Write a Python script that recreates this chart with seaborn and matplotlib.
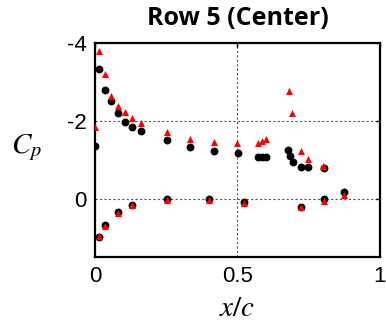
import matplotlib
matplotlib.use("Agg")
import matplotlib.pyplot as plt
import seaborn as sns
import pandas as pd

# Pressure coefficient along the chord, upper and lower surface taps
x_a = [0.0, 0.015, 0.035, 0.056, 0.081, 0.105, 0.131, 0.160, 0.252, 0.333, 0.418,
       0.503, 0.573, 0.587, 0.602, 0.678, 0.683, 0.694, 0.723, 0.749, 0.805,
       0.015, 0.035, 0.081, 0.131, 0.252, 0.401, 0.523, 0.723, 0.805, 0.874]
cp_a = [-1.35, -3.34, -2.80, -2.50, -2.20, -1.97, -1.85, -1.75, -1.51, -1.34, -1.24,
        -1.17, -1.08, -1.08, -1.08, -1.26, -1.11, -0.94, -0.81, -0.81, -0.80,
        0.97, 0.68, 0.33, 0.15, 0.01, 0.01, 0.08, 0.21, 0.01, -0.17]

x_b = [0.0, 0.015, 0.035, 0.056, 0.081, 0.105, 0.131, 0.160, 0.252, 0.333, 0.418,
       0.500, 0.571, 0.587, 0.602, 0.681, 0.692, 0.722, 0.749, 0.802,
       0.015, 0.035, 0.081, 0.131, 0.252, 0.401, 0.523, 0.723, 0.804, 0.874]
cp_b = [-1.84, -3.80, -3.20, -2.65, -2.38, -2.22, -2.08, -1.94, -1.71, -1.54, -1.47,
        -1.43, -1.43, -1.48, -1.53, -2.78, -2.21, -1.24, -1.02, -0.85,
        0.95, 0.70, 0.35, 0.15, 0.03, 0.03, 0.10, 0.21, 0.05, -0.09]

x_ticks = [0, 0.5, 1]
x_tick_labels = ["0", "0.5", "1"]
y_ticks = [-4, -2, 0]
y_tick_labels = ["-4", "-2", "0"]

df_a = pd.DataFrame({"x/c": x_a, "Cp": cp_a})
df_b = pd.DataFrame({"x/c": x_b, "Cp": cp_b})

sns.set_style("white")
plt.rcParams["font.family"] = ["Liberation Sans", "DejaVu Sans"]
plt.rcParams["mathtext.fontset"] = "stix"
plt.rcParams["text.color"] = "black"
plt.rcParams["axes.labelcolor"] = "black"

fig = plt.figure(figsize=(3.86, 3.21), dpi=100)
ax = fig.add_axes([0.246, 0.198, 0.738, 0.668])

sns.scatterplot(data=df_a, x="x/c", y="Cp", ax=ax, marker="o", color="black",
                s=32, edgecolor="black", linewidth=0, zorder=3)
sns.scatterplot(data=df_b, x="x/c", y="Cp", ax=ax, marker="^", color="red",
                s=26, edgecolor="red", linewidth=0, zorder=4)

ax.set_xlim(0, 1)
ax.set_ylim(1.5, -4)
ax.set_xticks(x_ticks)
ax.set_xticklabels(x_tick_labels)
ax.set_yticks(y_ticks)
ax.set_yticklabels(y_tick_labels)
ax.tick_params(direction="in", length=3, width=1, labelsize=16, pad=6,
               top=True, right=True, colors="black")
ax.grid(True, linestyle=(0, (2, 2)), color="#555555", linewidth=0.8)

for sp in ax.spines.values():
    sp.set_linewidth(1.6)
    sp.set_color("black")
    sp.set_visible(True)

ax.set_xlabel("$x/c$", fontsize=21, labelpad=5, color="black")
ax.set_ylabel("$C_p$", fontsize=21, rotation=0, va="center", color="black")
ax.yaxis.set_label_coords(-0.24, 0.51)
ax.set_title("Row 5 (Center)", fontsize=18, fontweight="bold", color="black",
             family=["Open Sans", "DejaVu Sans"], pad=13)

fig.savefig("out.png", dpi=100)
